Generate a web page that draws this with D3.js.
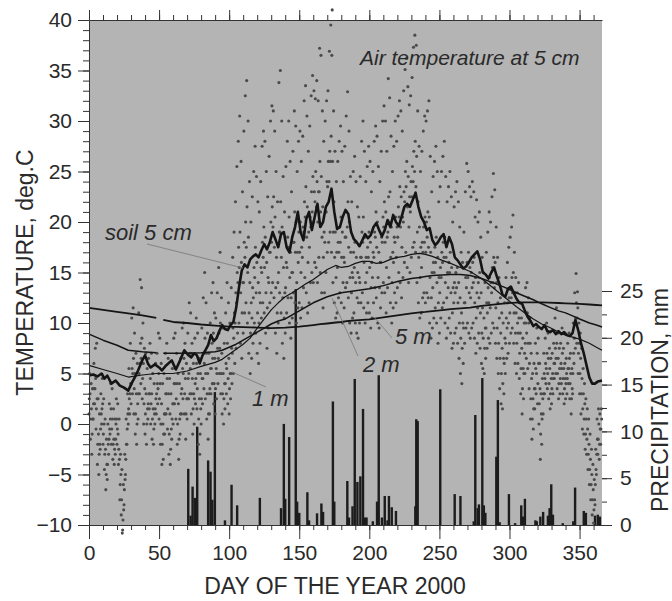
<!DOCTYPE html>
<html>
<head>
<meta charset="utf-8">
<script src="https://cdn.jsdelivr.net/npm/d3@7"></script>
<style>
  body { margin: 0; background: #fff; }
  text { font-family: "Liberation Sans", Arial, sans-serif; fill: #2a2a2a; }
</style>
</head>
<body>
<svg id="chart" width="672" height="601"></svg>
<script>
// air temperature at 5 cm, one row per day (day 0..365), readings at 0, 6, 12, 18 h
var airTemp = [
  [1.0,2.5,5.0,3.0],[-1.5,0.5,4.0,1.5],[-3.0,-1.0,3.5,0.5],[0.5,2.0,6.0,3.5],[2.0,3.5,7.5,4.5],[-0.5,1.5,8.0,2.5],[-4.0,-2.0,2.5,-1.0],[-5.0,-3.0,1.0,-2.0],[-2.5,-0.5,3.0,1.0],[0.0,1.5,4.5,2.0],
  [-2.0,-1.0,2.5,0.0],[-4.5,-3.0,0.5,-2.5],[-6.5,-5.0,-1.5,-4.0],[-5.5,-4.0,0.0,-2.0],[-3.0,-1.5,2.0,-0.5],[-1.0,0.5,4.0,1.5],[-2.0,-0.5,3.5,0.5],[-3.5,-2.0,1.5,-1.5],[-4.0,-2.5,0.5,-3.0],[-1.5,0.0,2.5,0.5],
  [-2.0,-0.5,2.0,-1.0],[-4.0,-2.5,0.5,-3.5],[-7.5,-6.0,-3.0,-5.0],[-9.0,-7.5,-4.5,-10.8],[-10.5,-9.5,-6.0,-8.5],[-8.0,-6.5,-3.0,-5.5],[-5.0,-3.5,0.5,-2.0],[-2.0,-0.5,3.0,1.0],[0.0,1.5,5.5,2.5],[1.0,3.0,8.0,4.0],
  [2.0,4.0,10.5,5.5],[3.0,5.0,11.5,6.5],[1.0,3.5,9.0,5.0],[-1.0,1.0,7.0,3.0],[-2.0,0.0,6.0,2.0],[0.5,3.0,11.0,5.0],[3.0,6.0,14.3,8.0],[4.0,6.5,13.5,8.5],[2.5,4.5,10.0,6.0],[0.0,2.0,7.5,3.5],
  [-1.0,1.0,7.0,3.0],[-2.0,0.0,5.5,1.5],[0.5,2.0,6.5,3.0],[1.5,3.0,8.0,4.5],[0.0,2.0,7.0,3.0],[-1.5,0.5,5.0,1.5],[-2.0,-0.5,4.0,1.0],[0.0,1.5,6.0,2.5],[1.0,3.0,7.0,4.0],[2.0,3.5,9.0,5.0],
  [0.5,2.5,8.5,4.0],[-2.0,0.0,6.0,2.0],[-4.0,-2.0,4.0,0.0],[-3.5,-1.0,5.0,1.0],[-1.0,1.0,7.0,3.0],[1.0,3.0,8.0,4.5],[-0.5,1.5,6.5,3.0],[-3.0,-1.0,4.5,1.0],[-4.0,-2.5,3.0,-0.5],[-1.5,0.5,5.5,2.0],
  [0.0,2.0,8.5,4.0],[2.0,4.0,9.0,5.5],[0.5,2.5,7.0,4.0],[-2.0,0.0,5.0,2.0],[-3.5,-1.5,4.0,0.5],[-1.0,1.0,6.5,3.0],[1.0,3.5,9.5,5.5],[2.5,5.0,10.0,6.5],[1.0,3.0,8.0,4.5],[-1.5,1.0,6.0,2.5],
  [0.5,2.5,9.0,4.5],[2.5,5.0,12.0,7.0],[3.0,5.5,11.0,7.0],[1.0,3.0,8.0,4.5],[-1.0,1.5,6.0,3.0],[0.0,2.5,8.5,4.0],[2.0,4.5,10.5,6.0],[1.5,3.5,9.0,5.0],[-2.0,0.5,6.5,2.5],[-3.0,-1.0,5.0,1.5],
  [0.0,2.5,9.5,4.5],[2.0,4.5,12.5,7.0],[3.5,6.0,15.0,8.5],[2.5,5.0,12.0,7.0],[0.5,3.0,9.0,5.0],[-1.5,1.0,7.0,3.0],[1.0,3.5,10.0,5.5],[3.0,5.5,13.0,8.0],[4.0,6.5,14.0,9.0],[2.0,4.0,11.0,6.5],
  [1.0,3.5,10.5,5.5],[2.5,5.0,13.0,7.5],[4.0,6.5,15.5,9.0],[5.0,7.5,17.0,10.0],[3.0,5.0,12.5,7.0],[1.0,3.0,9.5,5.0],[0.0,2.5,8.0,4.0],[1.5,4.0,11.0,6.0],[3.0,5.5,14.0,8.0],[2.0,4.5,12.0,6.5],
  [1.0,3.5,10.0,5.0],[2.5,5.0,13.5,7.5],[4.0,7.0,16.5,9.5],[5.0,8.5,19.0,11.0],[6.0,10.0,22.0,13.0],[7.5,12.0,25.5,15.0],[9.0,14.0,28.0,17.5],[10.0,15.5,30.5,19.0],[8.0,13.0,26.0,16.0],[6.5,11.0,23.0,14.0],
  [9.0,14.0,29.0,18.0],[11.0,16.5,32.5,20.0],[12.0,17.5,34.0,21.5],[10.0,15.0,30.0,18.5],[7.0,11.0,24.0,14.0],[5.0,9.0,20.0,12.0],[6.5,10.5,22.5,13.5],[8.0,12.5,25.0,15.5],[10.0,14.5,27.5,17.5],[9.0,13.0,24.5,16.0],
  [7.0,11.0,22.0,14.0],[6.0,10.0,21.0,13.0],[8.0,12.0,24.0,15.5],[10.5,15.0,27.5,18.0],[12.0,16.5,29.0,19.5],[11.0,15.5,28.0,18.5],[9.0,13.0,25.0,16.0],[7.5,11.5,22.5,14.5],[9.5,14.0,26.5,17.0],[12.0,17.0,30.0,20.0],
  [13.0,18.0,31.5,21.5],[14.0,19.5,31.0,22.5],[12.5,17.5,29.0,20.5],[9.0,13.5,25.0,16.5],[7.0,11.0,22.0,14.0],[10.0,15.0,33.8,19.0],[13.0,19.0,35.0,22.0],[11.0,16.5,30.0,19.5],[8.0,12.5,24.5,15.5],[6.5,10.5,21.0,13.0],
  [9.0,13.5,25.5,16.0],[11.0,15.5,28.0,18.5],[12.5,17.5,30.0,20.5],[10.0,14.5,26.0,17.0],[8.5,12.5,23.0,15.0],[10.5,15.0,27.0,18.0],[13.0,18.0,31.0,21.0],[12.0,17.0,29.5,20.0],[10.0,14.0,25.0,17.0],[11.5,16.0,28.0,19.0],
  [12.0,17.0,29.0,20.0],[10.5,15.0,26.0,17.5],[11.5,16.5,28.5,19.5],[13.5,19.0,32.0,22.0],[14.5,20.5,33.5,23.5],[13.0,18.5,30.5,21.5],[11.0,16.0,27.0,19.0],[12.0,17.5,29.5,20.5],[14.0,19.5,32.5,23.0],[15.0,21.0,34.5,24.5],
  [14.0,20.0,33.0,23.0],[16.0,22.0,32.2,25.0],[15.5,21.5,34.0,24.0],[14.0,20.0,32.0,23.0],[16.5,23.0,37.2,26.0],[15.0,21.0,36.5,24.5],[13.0,18.5,31.0,21.5],[11.5,16.5,28.0,19.0],[13.0,18.0,30.0,21.0],[15.0,21.0,32.0,24.0],
  [17.0,23.5,33.0,26.0],[18.0,24.0,36.9,27.0],[19.0,26.0,39.5,28.5],[17.0,36.5,41.0,26.0],[14.0,19.0,31.0,22.0],[12.0,16.5,27.0,19.0],[10.5,14.5,24.0,17.0],[11.0,15.5,26.0,18.0],[12.5,17.0,28.0,19.5],[13.0,18.0,29.5,20.5],
  [12.0,16.5,27.0,19.0],[10.0,14.0,24.0,16.5],[11.5,16.0,27.5,18.5],[13.5,18.5,30.5,21.0],[14.0,19.5,32.9,22.0],[12.5,17.5,29.0,20.0],[10.0,14.5,24.5,17.0],[9.0,13.0,22.0,15.0],[10.5,14.5,25.0,17.0],[11.0,15.5,26.5,18.0],
  [10.0,14.0,24.0,16.5],[9.0,12.5,21.5,15.0],[8.5,12.0,20.5,14.5],[10.0,14.0,24.5,16.5],[12.0,16.5,28.0,19.0],[13.0,18.0,30.0,20.5],[11.5,16.0,27.0,18.5],[10.0,14.0,24.0,16.5],[11.0,15.0,25.5,17.5],[12.0,16.5,27.5,19.0],
  [11.0,15.5,26.0,18.0],[9.5,13.5,23.0,16.0],[10.5,14.5,25.0,17.0],[12.0,16.5,28.0,19.0],[13.5,18.5,29.5,21.0],[12.5,17.5,28.5,20.0],[10.0,14.5,25.5,17.0],[9.5,13.5,24.0,16.0],[11.5,16.0,27.0,18.5],[13.0,18.0,30.0,20.5],
  [14.0,19.5,31.5,22.0],[13.0,18.0,30.0,21.0],[11.0,15.5,27.0,18.5],[13.5,19.0,34.2,22.5],[14.5,20.0,32.3,23.0],[12.0,16.5,28.5,19.5],[10.0,14.0,25.0,17.0],[11.5,16.0,27.5,18.5],[13.0,18.0,30.0,20.5],[12.0,16.5,28.0,19.5],
  [13.5,18.5,30.5,21.5],[15.0,20.5,32.0,23.5],[14.0,19.5,31.0,22.5],[12.5,17.5,29.0,20.5],[14.5,20.0,33.0,23.0],[16.0,22.0,35.1,25.0],[17.0,23.5,36.2,26.0],[15.5,21.5,33.4,24.5],[14.0,19.5,31.6,22.5],[15.0,21.0,32.5,24.0],
  [16.5,22.5,34.3,25.5],[17.5,24.0,37.3,27.0],[18.0,25.0,38.5,28.0],[17.0,23.5,37.5,26.5],[14.0,19.0,31.0,22.0],[12.0,16.5,27.5,19.5],[10.5,14.5,25.0,17.5],[11.0,15.5,27.0,18.0],[12.5,17.0,29.0,19.5],[13.0,18.0,30.5,20.5],
  [12.0,17.0,30.0,20.0],[13.0,18.5,31.0,21.0],[12.5,17.5,32.0,20.5],[10.0,14.5,26.5,17.0],[8.5,12.5,23.0,15.0],[9.5,13.5,24.5,16.0],[10.5,15.0,26.0,17.5],[11.5,16.0,27.5,18.5],[10.0,14.0,25.0,16.5],[8.0,12.0,22.0,14.5],
  [9.0,13.0,23.5,15.5],[10.5,14.5,25.0,17.0],[11.5,16.0,26.5,18.0],[12.0,16.5,28.0,18.5],[10.0,14.0,24.5,16.5],[8.5,12.5,22.0,15.0],[9.5,13.5,23.5,16.0],[10.5,15.0,25.0,17.0],[9.0,13.0,22.5,15.5],[7.5,11.0,20.0,13.5],
  [8.0,12.0,21.5,14.0],[9.0,13.0,23.0,15.0],[9.5,13.5,24.0,15.5],[8.0,12.0,22.0,14.0],[6.5,10.0,19.5,12.5],[5.0,8.5,17.0,11.0],[4.0,7.5,16.0,10.0],[6.0,9.5,19.0,12.0],[8.0,12.0,23.0,14.5],[9.5,13.5,25.8,16.0],
  [10.0,14.5,25.0,17.0],[9.0,13.0,23.5,15.5],[8.5,12.5,22.5,15.0],[9.5,13.5,24.0,16.0],[10.0,14.0,23.0,16.5],[8.5,12.0,20.5,14.5],[7.0,10.5,22.2,13.0],[8.0,11.5,20.0,14.0],[9.0,12.5,21.0,15.0],[7.5,11.0,18.5,13.0],
  [6.0,9.0,16.5,11.5],[5.5,8.5,15.0,10.5],[5.0,7.5,14.0,9.5],[6.5,9.5,17.0,12.0],[7.5,11.0,19.0,13.5],[8.5,12.0,21.0,14.5],[8.0,11.5,20.0,14.0],[9.0,13.0,22.5,15.5],[10.0,14.0,24.8,16.5],[9.5,13.5,23.2,16.0],
  [8.0,11.5,19.5,14.0],[6.5,9.5,16.5,12.0],[5.0,8.0,14.5,10.5],[3.5,6.5,12.5,9.0],[2.0,5.0,11.0,7.5],[1.5,4.0,10.0,6.5],[3.0,6.0,12.0,8.5],[5.0,8.0,14.5,10.5],[6.5,9.5,16.0,12.0],[7.0,10.0,17.5,12.5],
  [8.0,11.0,18.5,13.5],[9.0,12.5,19.5,14.5],[9.5,13.0,20.7,15.0],[8.0,11.0,17.0,13.0],[6.0,9.0,14.5,11.0],[5.0,8.0,13.0,10.0],[6.0,9.0,14.0,10.5],[4.5,7.0,12.0,9.0],[3.0,5.5,10.5,7.5],[1.0,3.5,8.5,5.5],
  [2.5,5.0,10.0,7.0],[5.0,8.0,13.5,10.0],[6.5,9.0,14.0,11.0],[5.5,8.0,12.5,10.0],[3.5,6.0,10.5,8.0],[0.5,2.5,7.0,4.5],[-1.5,0.5,5.0,2.5],[-0.5,1.5,6.0,3.5],[1.5,3.5,8.0,5.5],[3.0,5.0,9.5,7.0],
  [2.0,4.0,8.5,6.0],[0.0,2.0,6.0,3.5],[-3.5,-1.0,3.0,1.0],[-2.0,0.5,4.5,2.5],[1.0,3.0,7.0,5.0],[3.0,4.5,8.5,6.0],[4.0,5.5,10.0,7.0],[3.5,5.0,9.0,6.5],[2.5,4.0,7.5,5.5],[1.5,3.0,6.5,4.5],
  [2.0,3.5,7.0,5.0],[3.0,4.5,8.0,6.0],[4.5,6.0,10.5,7.5],[5.0,6.5,11.5,8.0],[3.5,5.0,9.0,6.5],[2.5,4.0,7.5,5.5],[3.0,4.5,8.0,6.0],[4.0,5.5,9.5,7.0],[3.0,4.5,7.5,5.5],[2.0,3.5,6.0,4.5],
  [2.5,4.0,6.5,5.0],[3.0,4.5,8.0,5.5],[4.0,5.5,9.0,6.5],[2.5,4.0,7.0,5.0],[1.0,2.5,5.5,3.5],[3.0,5.0,10.0,7.0],[6.0,8.5,13.0,10.0],[7.5,10.5,14.9,12.0],[8.0,10.5,13.1,11.5],[5.0,7.0,10.0,8.0],
  [3.0,5.0,9.0,6.5],[1.0,3.0,7.5,4.5],[-0.5,1.5,5.5,3.0],[-1.0,0.5,4.0,2.0],[-2.5,-1.0,2.5,0.5],[-3.0,-1.5,1.5,-0.5],[-4.5,-3.0,0.5,-2.0],[-6.0,-4.5,-1.0,-3.5],[-7.5,-6.0,-2.5,-5.0],[-9.0,-7.5,-4.0,-6.5],
  [-9.8,-8.5,-5.5,-7.5],[-8.0,-6.0,-2.5,-4.5],[-5.0,-3.0,0.5,-1.5],[-3.0,-1.5,1.5,0.0],[-3.5,-2.0,1.0,-0.5],[-2.0,-0.5,1.5,0.5]
];
var readingHours = [0, 6, 12, 18];

// soil temperature at 5 cm
var soilDays = [0,3,6,9,11,13,16,19,22,25,28,31,33,35,38,40,42,44,47,50,52,55,59,62,65,68,71,73,75,77,79,81,83,85,87,89,91,93,95,97,99,101,103,105,107,109,
  111,113,115,117,119,121,123,125,127,129,131,133,135,137,139,141,143,145,147,149,151,153,155,157,159,161,163,165,167,169,171,173,175,177,179,
  181,183,185,187,189,191,193,195,197,199,201,203,205,207,209,211,213,215,217,219,221,223,225,227,229,231,233,235,237,239,
  241,243,245,247,249,251,253,255,257,259,261,263,265,267,269,271,273,275,277,279,281,283,285,287,289,291,293,295,297,299,
  301,303,305,307,309,311,313,315,317,319,321,323,325,327,329,331,333,335,337,339,341,343,345,347,349,351,353,355,357,359,361,363,366];
var soil5cm = [4.8,4.9,4.7,5.0,4.5,4.8,4.0,4.3,3.8,3.6,3.3,4.2,4.7,5.3,6.3,6.8,6.0,5.6,5.9,5.6,5.3,5.8,6.3,5.4,6.3,7.3,6.8,6.6,7.0,6.8,6.0,6.8,7.3,7.8,8.8,8.2,8.5,9.2,9.8,9.4,9.3,9.8,10.1,11.5,13.5,15.2,
  15.8,15.5,16.3,16.6,16.8,16.5,17.2,17.8,17.3,18.0,19.0,18.3,17.5,18.8,19.0,17.5,17.0,18.5,19.5,21.0,19.0,18.2,20.3,21.0,19.2,20.5,21.8,19.5,20.0,21.5,22.0,23.3,21.0,19.3,19.5,
  20.5,21.2,20.8,19.0,18.3,18.0,17.6,18.2,18.8,18.4,18.7,19.5,19.9,19.2,18.6,19.2,20.2,19.5,20.7,20.0,19.6,20.5,21.5,21.8,21.5,22.2,22.9,21.5,20.5,20.0,
  19.2,19.4,18.2,17.7,18.0,18.5,18.8,17.5,18.5,17.8,16.5,16.2,15.8,15.4,15.6,16.0,16.5,16.8,17.1,16.3,15.0,14.8,14.4,15.0,15.5,14.6,13.8,12.8,12.6,13.4,
  13.6,13.0,12.4,12.0,11.9,11.2,10.6,10.2,9.7,9.9,9.6,9.4,9.8,9.2,9.1,9.3,8.9,9.2,8.9,9.1,8.8,8.7,9.0,10.3,9.3,8.0,7.0,5.8,4.6,4.0,4.0,4.2,4.3];

// deeper soil, null = gap in record
var deepDays = [0,10,20,28,38,48,50,53,60,70,80,90,95,100,105,110,115,120,125,130,135,140,145,150,155,160,165,170,176,180,185,190,195,200,205,210,215,220,225,230,236,240,245,252,258,265,272,280,290,297,305,310,317,323,328,335,340,345,350,357,362,366];
var soil1m = [5.8,5.4,5.0,4.65,4.85,5.0,5.0,5.0,5.0,5.25,5.7,6.1,6.4,6.9,7.4,7.9,8.5,9.5,10.4,11.3,12.0,12.6,13.0,13.45,13.9,14.3,14.8,15.3,15.7,15.5,15.6,15.9,16.1,16.1,15.9,16.0,16.3,16.5,16.6,16.8,16.9,16.8,16.6,16.2,15.9,15.5,15.1,14.4,13.3,12.5,11.6,11.1,10.4,9.9,9.6,9.1,8.8,8.6,8.4,8.0,7.6,7.3];
var soil2m = [8.9,8.3,7.8,7.3,7.15,7.05,null,7.0,7.0,7.0,7.05,7.15,7.3,7.6,7.9,8.3,8.7,9.1,9.5,9.9,10.2,10.4,10.8,11.2,11.6,12.0,12.3,12.6,12.85,13.0,13.1,13.2,13.3,13.4,13.55,13.7,13.9,14.1,14.25,14.4,14.5,14.6,14.7,14.75,14.8,14.8,14.7,14.4,13.9,13.5,13.0,12.7,12.3,11.9,11.6,11.2,11.0,10.7,10.4,10.0,9.8,9.6];
var soil5m = [11.5,11.3,11.1,10.95,10.75,10.5,null,10.3,10.1,10.0,9.85,9.75,9.7,9.65,9.62,9.6,9.57,9.55,9.52,9.5,9.52,9.55,9.6,9.65,9.72,9.8,9.88,9.95,10.05,10.1,10.2,10.25,10.3,10.35,10.45,10.55,10.65,10.75,10.85,10.95,11.05,11.1,11.18,11.28,11.37,11.45,11.53,11.7,11.85,11.95,12.02,12.05,12.05,12.05,12.02,11.98,11.95,11.92,11.9,11.83,11.78,11.75];

// daily precipitation, mm
var precipDays = [70.8,72.5,73.9,75.5,77.2,85,86.7,88,89.8,97,101.7,105.7,121.9,137,139,140,142.8,147.5,148.5,150,155.8,157,162.7,165.8,167,174,175,
  184.3,185.5,188,189.6,191.5,193.6,195.5,197,198,202.5,205.5,206.7,209,211,213,214,216,219,232.8,233.5,234.5,250.6,260.9,265,274.5,275.6,277.3,278.2,
  280.6,281.7,282.8,290.6,291.7,293,299.6,304,308.4,309.5,311,318.5,319.5,322,324,327.4,328.6,329.8,331,338,345.5,346.8,353,354.5,361,363,364.5];
var precipMm = [6.0,1.0,4.1,2.9,10.5,6.9,5.7,2.7,14.2,0.5,4.3,2.1,2.9,1.8,10.8,2.8,9.4,25.2,2.5,1.3,3.5,0.5,1.25,2.3,1.4,13.2,2.5,
  4.7,0.8,2.0,15.6,4.6,5.2,12.4,0.8,0.8,0.4,2.5,16.0,0.8,3.1,0.5,3.1,1.9,1.5,2.0,11.3,11.1,14.5,3.3,3.1,0.4,11.75,1.8,2.2,
  15.7,2.1,1.3,7.3,13.35,0.3,3.3,0.2,2.1,0.9,2.8,0.5,0.4,0.9,1.4,1.0,1.8,4.35,1.1,0.2,0.4,4.0,1.5,1.3,1.0,1.1,0.9];

var tempTicks = [-10, -5, 0, 5, 10, 15, 20, 25, 30, 35, 40];
var dayTicks = [0, 50, 100, 150, 200, 250, 300, 350];
var precipTicks = [0, 5, 10, 15, 20, 25];

var margin = { top: 20, right: 70, bottom: 76, left: 89 };
var width = 672, height = 601;
var svg = d3.select("#chart");

var x = d3.scaleLinear().domain([0, 366]).range([margin.left, width - margin.right]);
var y = d3.scaleLinear().domain([-10, 40]).range([height - margin.bottom, margin.top]);
var yP = d3.scaleLinear().domain([0, 53.95]).range([height - margin.bottom, margin.top]);

// plot area
svg.append("rect")
    .attr("x", x(0)).attr("y", y(40))
    .attr("width", x(366) - x(0)).attr("height", y(-10) - y(40))
    .attr("fill", "#b4b4b4");

// precipitation bars
var precip = precipDays.map((d, i) => ({ day: d, mm: precipMm[i] }));
svg.append("g").selectAll("rect")
    .data(precip)
    .enter().append("rect")
    .attr("x", d => x(d.day) - 1.2)
    .attr("y", d => yP(d.mm))
    .attr("width", 2.4)
    .attr("height", d => yP(0) - yP(d.mm))
    .attr("fill", "#1c1c1c");

// air temperature dots
var air = [];
airTemp.forEach((row, day) => {
    row.forEach((t, k) => air.push({ day: day + readingHours[k] / 24, t: t }));
});
svg.append("g").selectAll("circle")
    .data(air)
    .enter().append("circle")
    .attr("cx", d => x(d.day))
    .attr("cy", d => y(d.t))
    .attr("r", 1.55)
    .attr("fill", "#4a4a4a");

// soil temperature lines
function drawLine(days, vals, w) {
    var pts = days.map((d, i) => ({ day: d, t: vals[i] }));
    var line = d3.line()
        .defined(d => d.t !== null)
        .x(d => x(d.day))
        .y(d => y(d.t));
    svg.append("path")
        .datum(pts)
        .attr("fill", "none")
        .attr("stroke", "#151515")
        .attr("stroke-width", w)
        .attr("stroke-linejoin", "round")
        .attr("d", line);
}
drawLine(deepDays, soil5m, 1.8);
drawLine(deepDays, soil2m, 1.5);
drawLine(deepDays, soil1m, 1.2);
drawLine(soilDays, soil5cm, 2.6);

// labels with leaders
var leaders = [
    { text: "soil 5 cm", tx: 105, ty: 240, x1: 147, y1: 244, x2: 243, y2: 268 },
    { text: "5 m", tx: 395, ty: 344, x1: 375, y1: 318, x2: 392, y2: 338 },
    { text: "2 m", tx: 363, ty: 372, x1: 332, y1: 298, x2: 358, y2: 356 },
    { text: "1 m", tx: 252, ty: 406, x1: 232, y1: 372, x2: 266, y2: 387 }
];
svg.append("g").selectAll("line")
    .data(leaders)
    .enter().append("line")
    .attr("x1", d => d.x1).attr("y1", d => d.y1)
    .attr("x2", d => d.x2).attr("y2", d => d.y2)
    .attr("stroke", "#777")
    .attr("stroke-width", 0.8);
svg.append("g").selectAll("text")
    .data(leaders)
    .enter().append("text")
    .attr("x", d => d.tx).attr("y", d => d.ty)
    .attr("font-size", 22)
    .attr("font-style", "italic")
    .text(d => d.text);

svg.append("text")
    .attr("x", 360).attr("y", 65)
    .attr("font-size", 21)
    .attr("font-style", "italic")
    .text("Air temperature at 5 cm");

// axes
function styleAxis(g) {
    g.attr("font-family", "Liberation Sans, Arial, sans-serif").attr("font-size", 21);
    g.selectAll("path,line").attr("stroke", "#333");
    g.selectAll("text").attr("fill", "#2a2a2a");
}

svg.append("g")
    .attr("transform", "translate(" + x(0) + ",0)")
    .call(d3.axisLeft(y).tickValues(d3.range(-10, 41, 1)).tickSize(6).tickSizeOuter(0).tickFormat(""))
    .call(styleAxis);
svg.append("g")
    .attr("transform", "translate(" + x(0) + ",0)")
    .call(d3.axisLeft(y).tickValues(tempTicks).tickSize(11).tickSizeOuter(0).tickPadding(6))
    .call(styleAxis)
    .call(g => g.select(".domain").remove());

svg.append("g")
    .attr("transform", "translate(0," + y(-10) + ")")
    .call(d3.axisBottom(x).tickValues(d3.range(0, 361, 10)).tickSize(5).tickSizeOuter(0).tickFormat(""))
    .call(styleAxis);
svg.append("g")
    .attr("transform", "translate(0," + y(-10) + ")")
    .call(d3.axisBottom(x).tickValues(dayTicks).tickSize(14).tickSizeOuter(0).tickPadding(6))
    .call(styleAxis)
    .call(g => g.select(".domain").remove());

svg.append("g")
    .attr("transform", "translate(0," + y(40) + ")")
    .call(d3.axisTop(x).tickValues(d3.range(0, 361, 10)).tickSize(5).tickSizeOuter(0).tickFormat(""))
    .call(styleAxis);
svg.append("g")
    .attr("transform", "translate(0," + y(40) + ")")
    .call(d3.axisTop(x).tickValues(dayTicks).tickSize(10).tickSizeOuter(0).tickFormat(""))
    .call(styleAxis)
    .call(g => g.select(".domain").remove());

svg.append("g")
    .attr("transform", "translate(" + x(366) + ",0)")
    .call(d3.axisRight(yP).tickValues(d3.range(0, 26, 2.5)).tickSize(5).tickFormat(""))
    .call(styleAxis)
    .call(g => g.select(".domain").remove());
svg.append("g")
    .attr("transform", "translate(" + x(366) + ",0)")
    .call(d3.axisRight(yP).tickValues(precipTicks).tickSize(10).tickPadding(8))
    .call(styleAxis)
    .call(g => g.select(".domain").remove());

// axis titles
svg.append("text")
    .attr("transform", "translate(33," + (y(15)) + ") rotate(-90)")
    .attr("text-anchor", "middle")
    .attr("font-size", 23)
    .text("TEMPERATURE, deg.C");
svg.append("text")
    .attr("transform", "translate(668,400) rotate(-90)")
    .attr("text-anchor", "middle")
    .attr("font-size", 23)
    .text("PRECIPITATION, mm");
svg.append("text")
    .attr("x", 335).attr("y", 594)
    .attr("text-anchor", "middle")
    .attr("font-size", 23)
    .text("DAY OF THE YEAR 2000");
</script>
</body>
</html>
